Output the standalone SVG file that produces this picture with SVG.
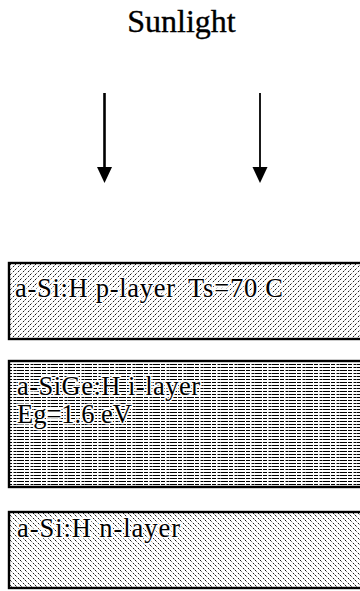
<svg xmlns="http://www.w3.org/2000/svg" width="360" height="591" viewBox="0 0 360 591">
  <style>
    .lbl { font-family: "Liberation Serif", "Times New Roman", serif; fill: #000; }
    .halo { stroke: #fff; stroke-width: 3; stroke-linejoin: round; paint-order: stroke fill; }
    .layer { stroke: #000; stroke-width: 2.4; }
    .arrow { stroke: #000; fill: none; }
    .head { fill: #000; }
  </style>
  <defs>
    <pattern id="hatchP" patternUnits="userSpaceOnUse" width="5" height="5">
      <rect width="5" height="5" fill="#fff"/>
      <path d="M-1,1 L1,-1 M0,5 L5,0 M4,6 L6,4" stroke="#000" stroke-width="0.9" stroke-dasharray="2.2 1.8"/>
    </pattern>
    <pattern id="hatchN" patternUnits="userSpaceOnUse" width="5" height="5">
      <rect width="5" height="5" fill="#fff"/>
      <path d="M-1,4 L1,6 M0,0 L5,5 M4,-1 L6,1" stroke="#000" stroke-width="0.9" stroke-dasharray="2.2 1.8"/>
    </pattern>
    <pattern id="hatchI" patternUnits="userSpaceOnUse" width="17" height="3">
      <rect width="17" height="3" fill="#fff"/>
      <path d="M0,1.5 L17,1.5" stroke="#000" stroke-width="1" stroke-dasharray="7 1 4 1.5 3 0.5"/>
    </pattern>
  </defs>

  <g id="sunlight">
    <text class="lbl" x="181.5" y="32" font-size="32" text-anchor="middle" stroke="#000" stroke-width="0.35">Sunlight</text>
  </g>

  <g id="connectors">
    <line class="arrow" x1="104.5" y1="93" x2="104.5" y2="170" stroke-width="2.6"/>
    <polygon class="head" points="97,167 112,167 104.5,183"/>
    <line class="arrow" x1="260" y1="93" x2="260" y2="170" stroke-width="1.8"/>
    <polygon class="head" points="252.5,167 267.5,167 260,183"/>
  </g>

  <g id="p-layer">
    <rect class="layer" x="9" y="263" width="360" height="76" fill="url(#hatchP)"/>
    <text class="lbl halo" y="297" font-size="26.5"><tspan x="15" textLength="160" lengthAdjust="spacing">a-Si:H p-layer</tspan><tspan x="188" textLength="95" lengthAdjust="spacing">Ts=70 C</tspan></text>
  </g>

  <g id="i-layer">
    <rect class="layer" x="9" y="361" width="360" height="126" fill="url(#hatchI)"/>
    <text class="lbl halo" x="17" y="395" font-size="26.5" textLength="183" lengthAdjust="spacing">a-SiGe:H i-layer</text>
    <text class="lbl halo" x="17" y="423" font-size="26.5" textLength="115" lengthAdjust="spacing">Eg=1.6 eV</text>
  </g>

  <g id="n-layer">
    <rect class="layer" x="9" y="512" width="360" height="76" fill="url(#hatchN)"/>
    <text class="lbl halo" x="17" y="537" font-size="26.5" textLength="163" lengthAdjust="spacing">a-Si:H n-layer</text>
  </g>
</svg>
